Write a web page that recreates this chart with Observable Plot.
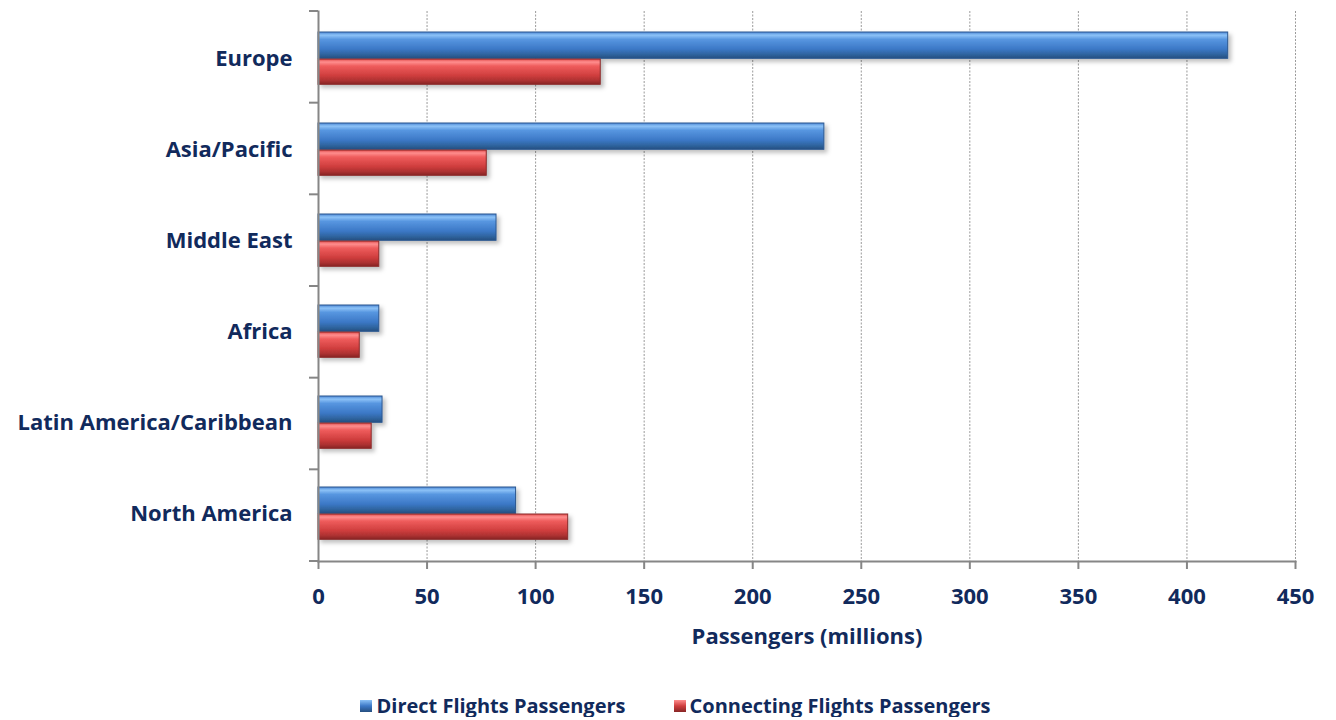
<!DOCTYPE html>
<html><head><meta charset="utf-8">
<script src="https://cdn.jsdelivr.net/npm/d3@7"></script>
<script src="https://cdn.jsdelivr.net/npm/@observablehq/plot@0.6"></script>
<style>
body{margin:0;background:#fff;font-family:"Open Sans",Lato,sans-serif;}
#chart svg{display:block;}
#legend{display:flex;justify-content:center;gap:48px;margin-top:35px;padding-left:15px;font-weight:bold;font-size:20px;color:#112a5c;line-height:22px;}
#legend .item{display:flex;align-items:center;}
#legend .sw{width:12px;height:12px;margin-right:4px;box-sizing:border-box;}
</style></head><body>
<div id="chart"></div>
<div id="legend"></div>
<script>
const regions = ["Europe","Asia/Pacific","Middle East","Africa","Latin America/Caribbean","North America"];
const directPassengers = [419, 233, 82, 28, 29.5, 91];
const connectingPassengers = [130, 77.5, 28, 19, 24.5, 115];
const seriesNames = ["Direct Flights Passengers","Connecting Flights Passengers"];
const xTicks = [0,50,100,150,200,250,300,350,400,450];
const xLabel = "Passengers (millions)";

const directData = regions.map((r,i)=>({region:r, value:directPassengers[i]}));
const connData = regions.map((r,i)=>({region:r, value:connectingPassengers[i]}));

const navy = "#112a5c";
const grey = "#868686";

const plot = Plot.plot({
  width: 1336,
  height: 660,
  marginTop: 11,
  marginBottom: 99,
  marginLeft: 318,
  marginRight: 41,
  style: {fontFamily: "'Open Sans', Lato, sans-serif", color: navy, background: "#fff"},
  x: {domain: [0, 450]},
  y: {domain: regions, padding: 0},
  marks: [
    Plot.ruleX(xTicks.filter(d=>d>0), {stroke: "#9a9a9a", strokeDasharray: "2,1.5", strokeWidth: 1}),
    Plot.barX(directData, {y: "region", x: "value", fill: "url(#gBlue)", stroke: "#2c5790", strokeWidth: 1, insetTop: 19, insetBottom: 45.7}),
    Plot.barX(connData, {y: "region", x: "value", fill: "url(#gRed)", stroke: "#8a2b2b", strokeWidth: 1, insetTop: 46, insetBottom: 19.7}),
    Plot.frame({anchor: "left", stroke: grey, strokeWidth: 2}),
    Plot.frame({anchor: "bottom", stroke: grey, strokeWidth: 2}),
    Plot.axisY({tickSize: 0, tickPadding: 26, fontSize: 22, fontWeight: "bold", fill: navy, label: null}),
    Plot.axisX(xTicks, {tickSize: 8, tickPadding: 19, fontSize: 22, fontWeight: "bold", fill: navy, stroke: grey, strokeWidth: 2,
      label: xLabel, labelAnchor: "center", labelOffset: 82, labelArrow: "none"})
  ]
});

const svg = d3.select(plot);
const defs = svg.insert("defs", ":first-child");
function grad(id, stops){
  const g = defs.append("linearGradient").attr("id", id).attr("x1",0).attr("y1",0).attr("x2",0).attr("y2",1);
  stops.forEach(([o,c])=>g.append("stop").attr("offset",o).attr("stop-color",c));
}
grad("gBlue", [[0,"#4a86d4"],[0.12,"#8cc2f7"],[0.28,"#5796e0"],[0.65,"#3c78c6"],[0.85,"#2f649f"],[1,"#264f80"]]);
grad("gRed", [[0,"#e04c4c"],[0.12,"#ff8e8e"],[0.28,"#ef5c5c"],[0.65,"#cf3e3e"],[0.85,"#ad3131"],[1,"#872626"]]);
const f = defs.append("filter").attr("id","shadow").attr("x","-5%").attr("y","-20%").attr("width","115%").attr("height","160%");
f.append("feDropShadow").attr("dx",3).attr("dy",3).attr("stdDeviation",2).attr("flood-color","#000").attr("flood-opacity",0.25);
svg.selectAll("g[aria-label='bar']").attr("filter","url(#shadow)");

// Excel-style y ticks at category boundaries
const ys = plot.scale("y");
const xs = plot.scale("x");
const step = (ys.range[1]-ys.range[0]) / ys.domain.length;
const bounds = d3.range(ys.domain.length+1).map(i => ys.range[0] + i*step);
const x0 = xs.apply(0);
svg.append("g").selectAll("line").data(bounds).join("line")
  .attr("x1", x0-9).attr("x2", x0).attr("y1", d=>d).attr("y2", d=>d)
  .attr("stroke", grey).attr("stroke-width", 2);

document.getElementById("chart").append(plot);

const legend = d3.select("#legend");
const swatch = ["linear-gradient(#8cc2f7,#3c78c6 50%,#264f80)", "linear-gradient(#ff8e8e,#cf3e3e 50%,#872626)"];
seriesNames.forEach((name,i)=>{
  const it = legend.append("div").attr("class","item");
  it.append("div").attr("class","sw").style("background", swatch[i]);
  it.append("span").text(name);
});
</script>
</body></html>
